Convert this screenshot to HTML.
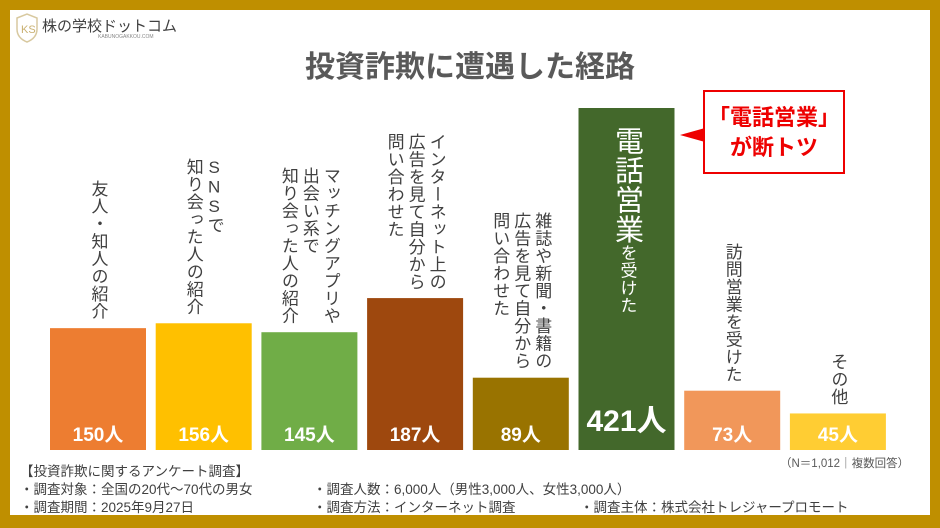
<!DOCTYPE html>
<html><head><meta charset="utf-8"><style>
body{margin:0;width:940px;height:528px;overflow:hidden;background:#BF8F00;font-family:"Liberation Sans","Noto Sans CJK JP",sans-serif}
#panel{position:absolute;left:10px;top:10px;width:920px;height:505px;background:#fff}
.lbl{position:absolute;writing-mode:vertical-rl;text-orientation:upright;font-size:17px;line-height:21px;letter-spacing:0.5px;color:#404040;font-weight:400;white-space:pre}
.val{position:absolute;color:#fff;font-weight:bold;font-size:19px;text-align:center}
.foot{position:absolute;font-size:13.5px;color:#404040;white-space:pre}
</style></head><body>
<div id="panel"></div>
<div style="position:absolute;left:14px;top:13px">
<svg width="26" height="30"><path d="M3 5 L13 1 L23 5 L23 16 Q23 25 13 29 Q3 25 3 16Z" fill="none" stroke="#d8c9a0" stroke-width="1.5"/><text x="7" y="20" font-size="11" fill="#c9b070" font-family="Liberation Sans">KS</text></svg>
<span style="position:absolute;left:28px;top:2px;font-size:15px;color:#404040;white-space:nowrap">株の学校ドットコム</span>
<span style="position:absolute;left:84px;top:21px;font-size:5px;color:#888;white-space:nowrap">KABUNOGAKKOU.COM</span>
</div>
<div style="position:absolute;left:0;width:940px;top:42px;text-align:center;font-size:30px;font-weight:bold;color:#595959">投資詐欺に遭遇した経路</div>
<svg id="chart" width="940" height="528" style="position:absolute;left:0;top:0"></svg>
<div id="labels"></div>
<div style="position:absolute;left:703px;top:90px;width:142px;height:84px;border:2px solid #e00;background:#fff;color:#e00;font-weight:bold;font-size:22px;text-align:center;line-height:30px;padding-top:11px;box-sizing:border-box">「電話営業」<br>が断トツ</div>
<svg width="30" height="20" style="position:absolute;left:680px;top:125px"><polygon points="0,10 25,3 25,17" fill="#e00"/></svg>
<div class="foot" style="left:780px;top:455px;font-size:11.5px;color:#595959">（N＝1,012｜複数回答）</div>
<div class="foot" style="left:20px;top:460px">【投資詐欺に関するアンケート調査】</div>
<div class="foot" style="left:20px;top:478px">・調査対象：全国の20代～70代の男女</div>
<div class="foot" style="left:313px;top:478px">・調査人数：6,000人（男性3,000人、女性3,000人）</div>
<div class="foot" style="left:20px;top:496px">・調査期間：2025年9月27日</div>
<div class="foot" style="left:313px;top:496px">・調査方法：インターネット調査</div>
<div class="foot" style="left:580px;top:496px">・調査主体：株式会社トレジャープロモート</div>
<script>
const categories=["友人・知人の紹介","SNSで\n知り会った人の紹介","マッチングアプリや\n出会い系で\n知り会った人の紹介","インターネット上の\n広告を見て自分から\n問い合わせた","雑誌や新聞・書籍の\n広告を見て自分から\n問い合わせた","電話営業を受けた","訪問営業を受けた","その他"];
const values=[150,156,145,187,89,421,73,45];
const colors=["#ED7D31","#FFC000","#70AD47","#9E480E","#997300","#43682B","#F1975A","#FFCD33"];
const base=450,scale=342/421,x0=50,step=105.7,bw=96;
const y=v=>base-v*scale;
const svg=document.getElementById('chart'),lab=document.getElementById('labels');
values.forEach((v,i)=>{
 const x=x0+i*step;
 const r=document.createElementNS('http://www.w3.org/2000/svg','rect');
 
 
 r.setAttribute('x',x);r.setAttribute('y',y(v));r.setAttribute('width',bw);r.setAttribute('height',base-y(v));r.setAttribute('fill',colors[i]);
 svg.appendChild(r);
 const big=i===5;
 const t=document.createElement('div');
 
 
 t.className='val';t.textContent=v+'人';
 t.style.left=x+'px';t.style.width=bw+'px';
 t.style.top=(big?396:420)+'px';
 if(big)t.style.fontSize='30px';
 lab.appendChild(t);
 const l=document.createElement('div');
 
 
 l.className='lbl';
 const cols=categories[i].split('\n');
 if(big){
  l.innerHTML='<span style="font-size:29px;line-height:36px">電話営業</span>を受けた';
  l.style.color='#fff';l.style.top='126px';l.style.left=(x+bw/2-18)+'px';
 }else{
  l.textContent=categories[i];
  const w=cols.length*21;
  l.style.left=(x+bw/2-w/2)+'px';
  l.style.bottom=(528-y(v)+8)+'px';
 }
 lab.appendChild(l);
});
</script>
</body></html>
